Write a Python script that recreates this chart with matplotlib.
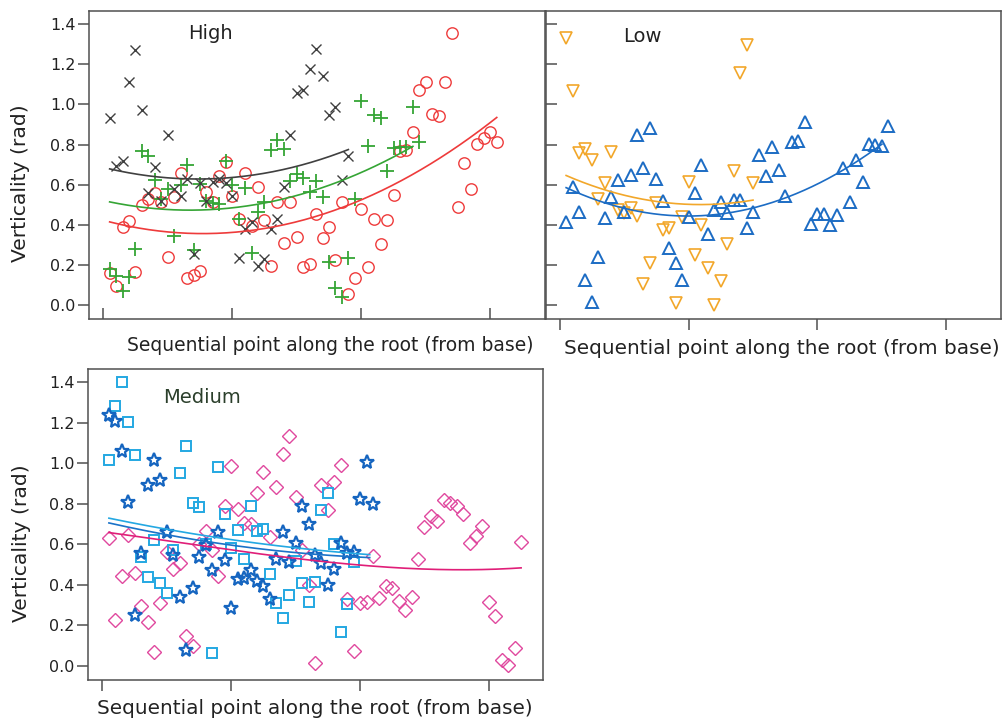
import numpy as np
import matplotlib
matplotlib.use("Agg")
import matplotlib.pyplot as plt

plt.rcParams['font.family'] = ['DejaVu Sans']

# ---------------- data (y values at consecutive points 1..N) ----------------
high_x_black = [0.93, 0.695, 0.72, 1.11, 1.27, 0.97, 0.56, 0.687, 0.52, 0.845,
                0.58, 0.545, 0.63, 0.254, 0.61, 0.52, 0.615, 0.63, 0.61, 0.545,
                0.233, 0.38, 0.415, 0.196, 0.23, 0.38, 0.43, 0.587, 0.845, 1.058,
                1.072, 1.177, 1.276, 1.14, 0.948, 0.987, 0.625, 0.744]
high_plus_green = [0.18, 0.146, 0.073, 0.142, 0.28, 0.768, 0.741, 0.625, 0.53, 0.58,
                   0.345, 0.60, 0.70, 0.276, 0.603, 0.518, 0.508, 0.502, 0.716, 0.597,
                   0.43, 0.584, 0.262, 0.465, 0.512, 0.771, 0.823, 0.78, 0.62, 0.655,
                   0.633, 0.562, 0.617, 0.537, 0.214, 0.084, 0.041, 0.236, 0.527, 1.015,
                   0.795, 0.948, 0.932, 0.667, 0.782, 0.787, 0.787, 0.987, 0.811]
high_circle_red = [0.16, 0.098, 0.391, 0.42, 0.167, 0.50, 0.531, 0.56, 0.516, 0.238,
                   0.54, 0.659, 0.134, 0.149, 0.172, 0.562, 0.516, 0.642, 0.715, 0.543,
                   0.427, 0.659, 0.394, 0.588, 0.426, 0.197, 0.512, 0.31, 0.512, 0.338,
                   0.191, 0.205, 0.453, 0.335, 0.388, 0.223, 0.513, 0.058, 0.138, 0.481,
                   0.192, 0.431, 0.305, 0.422, 0.549, 0.766, 0.773, 0.861, 1.07, 1.11,
                   0.952, 0.94, 1.109, 1.354, 0.49, 0.708, 0.58, 0.804, 0.834, 0.861,
                   0.812]
low_up_blue = [0.412, 0.588, 0.465, 0.126, 0.018, 0.24, 0.432, 0.54, 0.625, 0.463,
               0.647, 0.846, 0.683, 0.882, 0.63, 0.517, 0.283, 0.212, 0.125, 0.44,
               0.558, 0.696, 0.353, 0.476, 0.513, 0.459, 0.526, 0.526, 0.383, 0.466,
               0.746, 0.642, 0.79, 0.672, 0.542, 0.81, 0.816, 0.911, 0.404, 0.455,
               0.455, 0.40, 0.45, 0.683, 0.516, 0.723, 0.613, 0.804, 0.799, 0.794,
               0.89]
low_down_orange = [1.33, 1.067, 0.758, 0.78, 0.721, 0.53, 0.608, 0.761, 0.473, 0.46,
                   0.482, 0.445, 0.108, 0.208, 0.507, 0.374, 0.382, 0.012, 0.438, 0.615,
                   0.251, 0.397, 0.185, 0.003, 0.123, 0.305, 0.666, 1.157, 1.297, 0.608]
med_square_cyan = [1.015, 1.28, 1.398, 1.202, 1.04, 0.537, 0.44, 0.621, 0.411, 0.36,
                   0.571, 0.95, 1.086, 0.802, 0.785, 0.60, 0.065, 0.982, 0.751, 0.581,
                   0.672, 0.527, 0.79, 0.664, 0.676, 0.451, 0.308, 0.235, 0.348, 0.515,
                   0.41, 0.315, 0.412, 0.769, 0.852, 0.60, 0.169, 0.305, 0.513]
med_star_blue = [1.238, 1.21, 1.06, 0.806, 0.251, 0.555, 0.892, 1.016, 0.917, 0.659,
                 0.547, 0.34, 0.077, 0.383, 0.539, 0.597, 0.472, 0.659, 0.523, 0.284,
                 0.426, 0.434, 0.472, 0.417, 0.394, 0.33, 0.528, 0.659, 0.513, 0.608,
                 0.787, 0.699, 0.545, 0.507, 0.397, 0.478, 0.605, 0.555, 0.56, 0.822,
                 1.008, 0.797]
med_diamond_pink = [0.631, 0.227, 0.445, 0.643, 0.458, 0.293, 0.216, 0.066, 0.31, 0.56,
                    0.478, 0.505, 0.145, 0.099, 0.60, 0.666, 0.57, 0.441, 0.789, 0.986,
                    0.773, 0.703, 0.70, 0.853, 0.957, 0.637, 0.88, 1.045, 1.133, 0.832,
                    0.57, 0.40, 0.013, 0.893, 0.768, 0.905, 0.991, 0.328, 0.073, 0.31,
                    0.314, 0.543, 0.333, 0.395, 0.383, 0.32, 0.276, 0.34, 0.529, 0.683,
                    0.737, 0.713, 0.818, 0.802, 0.788, 0.747, 0.605, 0.64, 0.691, 0.313,
                    0.245, 0.029, 0.005, 0.09, 0.609]

# fitted trend lines: (x positions, y values)
fit_high_black_x = [1, 10, 18, 28, 38]
fit_high_black_y = [0.673, 0.645, 0.632, 0.665, 0.78]
fit_high_green_x = [1, 10, 20, 30.5, 40, 48]
fit_high_green_y = [0.512, 0.482, 0.482, 0.548, 0.664, 0.79]
fit_high_red_x = [1, 10, 20, 30, 40, 50, 61]
fit_high_red_y = [0.40, 0.378, 0.376, 0.42, 0.512, 0.67, 0.95]
fit_low_blue_x = [1, 10, 20, 35, 44, 50]
fit_low_blue_y = [0.587, 0.48, 0.444, 0.535, 0.675, 0.80]
fit_low_orange_x = [1, 10, 20, 30]
fit_low_orange_y = [0.645, 0.55, 0.50, 0.524]
fit_med_cyan_x = [1, 20, 32.5, 41.5]
fit_med_cyan_y = [0.728, 0.625, 0.57, 0.55]
fit_med_star_x = [1, 20, 32.5, 41.5]
fit_med_star_y = [0.704, 0.60, 0.545, 0.537]
fit_med_pink_x = [1, 20, 32.5, 40, 65]
fit_med_pink_y = [0.657, 0.575, 0.513, 0.502, 0.483]

x_ticks = [0, 20, 40, 60]
y_ticks = [0.0, 0.2, 0.4, 0.6, 0.8, 1.0, 1.2, 1.4]
panel_titles = ["High", "Low", "Medium"]
xlabel_text = "Sequential point along the root (from base)"
ylabel_text = "Verticality (rad)"

# ---------------- styles ----------------
C_BLACK = '#404040'
C_GREEN = '#35a535'
C_RED = '#ee3b3b'
C_BLUE = '#1c6cc4'
C_ORANGE = '#f2a72a'
C_CYAN = '#24a8e2'
C_STAR = '#1565c0'
C_PINK = '#e0489e'

W, H = 1005, 723
fig = plt.figure(figsize=(W / 100, H / 100), dpi=100)


def frac(l, t, r, b):
    return [l / W, 1 - b / H, (r - l) / W, (b - t) / H]


ax_h = fig.add_axes(frac(89, 10.5, 544.5, 319.3))
ax_l = fig.add_axes(frac(545.5, 10.5, 1000.5, 319.3))
ax_m = fig.add_axes(frac(88.3, 368.5, 543, 680))


def scatter(ax, ys, marker, color, ms, mew=1.0):
    x = np.arange(1, len(ys) + 1)
    ax.plot(x, ys, linestyle='none', marker=marker, ms=ms, mfc='none',
            mec=color, mew=mew, zorder=3)


def trend(ax, fx, fy, color, deg=2, lw=1.2):
    c = np.polyfit(fx, fy, deg)
    xf = np.linspace(min(fx), max(fx), 200)
    ax.plot(xf, np.polyval(c, xf), color=color, lw=lw, zorder=4)


scatter(ax_h, high_circle_red, 'o', C_RED, 8.2, 1.0)
scatter(ax_h, high_plus_green, '+', C_GREEN, 9.5, 1.3)
scatter(ax_h, high_x_black, 'x', C_BLACK, 7.5, 1.0)
trend(ax_h, fit_high_red_x, fit_high_red_y, C_RED)
trend(ax_h, fit_high_green_x, fit_high_green_y, C_GREEN)
trend(ax_h, fit_high_black_x, fit_high_black_y, C_BLACK)

scatter(ax_l, low_down_orange, 'v', C_ORANGE, 8.8, 1.2)
scatter(ax_l, low_up_blue, '^', C_BLUE, 8.8, 1.4)
trend(ax_l, fit_low_orange_x, fit_low_orange_y, C_ORANGE)
trend(ax_l, fit_low_blue_x, fit_low_blue_y, C_BLUE)

scatter(ax_m, med_diamond_pink, 'D', C_PINK, 7.5, 1.0)
scatter(ax_m, med_square_cyan, 's', C_CYAN, 7.5, 1.4)
scatter(ax_m, med_star_blue, '*', C_STAR, 10, 1.6)
trend(ax_m, fit_med_pink_x, fit_med_pink_y, '#e01e78', deg=3)
trend(ax_m, fit_med_cyan_x, fit_med_cyan_y, C_CYAN)
trend(ax_m, fit_med_star_x, fit_med_star_y, '#1a72c8')

for ax in (ax_h, ax_l, ax_m):
    ax.set_xlim(-2.2, 68.4)
    ax.set_ylim(-0.07, 1.467)
    ax.set_xticks(x_ticks)
    ax.set_yticks(y_ticks)
    ax.set_xticklabels([])
    for s in ax.spines.values():
        s.set_color('#505050')
        s.set_linewidth(1.1)
    ax.tick_params(length=8, width=1.1, color='#505050', labelsize=11.5,
                   labelcolor='#222222')

for ax in (ax_h, ax_m):
    ax.set_yticklabels([f"{v:.1f}" for v in y_ticks])
    ax.tick_params(axis='y', direction='out', pad=1.8)

ax_h.tick_params(axis='x', direction='in')
ax_m.tick_params(axis='x', direction='out')
ax_l.tick_params(axis='x', direction='out')
ax_l.tick_params(axis='y', direction='in', labelleft=False)

# axis labels
ax_h.set_xlabel(xlabel_text, fontsize=13.5, color='#222222')
ax_h.xaxis.set_label_coords(0.529, -0.055)
ax_l.set_xlabel(xlabel_text, fontsize=14.4, color='#222222')
ax_l.xaxis.set_label_coords(0.52, -0.064)
ax_m.set_xlabel(xlabel_text, fontsize=14.4, color='#222222')
ax_m.xaxis.set_label_coords(0.4986, -0.06)

ax_h.set_ylabel(ylabel_text, fontsize=14.6, color='#222222')
ax_h.yaxis.set_label_coords(-0.13, 0.44)
ax_m.set_ylabel(ylabel_text, fontsize=14.6, color='#222222')
ax_m.yaxis.set_label_coords(-0.126, 0.44)

ax_h.text(13.2, 1.40, panel_titles[0], fontsize=14, color='#222222', va='top')
ax_l.text(9.9, 1.385, panel_titles[1], fontsize=14, color='#222222', va='top')
ax_m.text(9.4, 1.372, panel_titles[2], fontsize=14, color='#2b3f2b', va='top')

fig.savefig('out.png', dpi=100)
